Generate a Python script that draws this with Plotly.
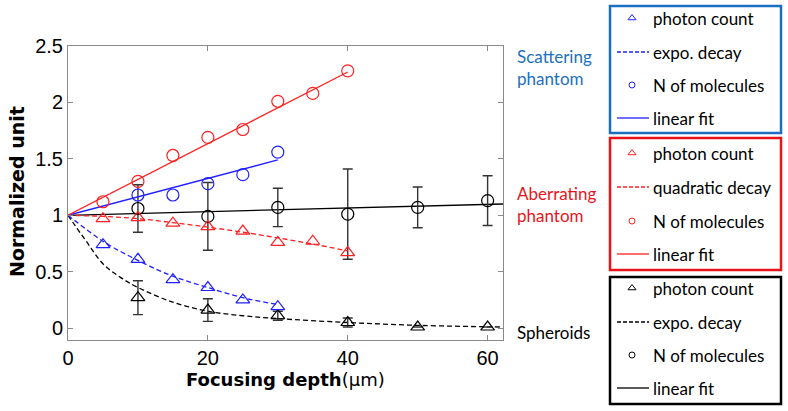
import plotly.graph_objects as go

W, H = 788, 411

# ---- data ----
# Scattering phantom (blue)
sc_pc_x = [5, 10, 15, 20, 25, 30]
sc_pc_y = [0.74, 0.61, 0.43, 0.36, 0.25, 0.19]
sc_fit_dec_x = [0, 5, 10, 15, 20, 25, 30]
sc_fit_dec_y = [1.0, 0.77, 0.60, 0.46, 0.36, 0.27, 0.21]
sc_nm_x = [10, 15, 20, 25, 30]
sc_nm_y = [1.18, 1.18, 1.28, 1.36, 1.56]
sc_lin_x = [0, 30]
sc_lin_y = [1.0, 1.49]

# Aberrating phantom (red)
ab_pc_x = [5, 10, 15, 20, 25, 30, 35, 40]
ab_pc_y = [0.97, 0.98, 0.93, 0.90, 0.86, 0.76, 0.77, 0.67]
ab_fit_dec_x = [0, 5, 10, 15, 20, 25, 30, 35, 40]
ab_fit_dec_y = [1.0, 0.99, 0.97, 0.935, 0.895, 0.85, 0.80, 0.745, 0.685]
ab_nm_x = [5, 10, 15, 20, 25, 30, 35, 40]
ab_nm_y = [1.12, 1.30, 1.53, 1.69, 1.76, 2.01, 2.08, 2.28]
ab_lin_x = [0, 40]
ab_lin_y = [1.0, 2.27]

# Spheroids (black)
sp_pc_x = [10, 20, 30, 40, 50, 60]
sp_pc_y = [0.27, 0.16, 0.11, 0.05, 0.01, 0.01]
sp_pc_err = [0.15, 0.10, 0.04, 0.04, 0.0, 0.0]
sp_fit_dec_x = [0, 1, 2.5, 5, 7.5, 10, 15, 20, 25, 30, 40, 50, 60, 62]
sp_fit_dec_y = [1.0, 0.91, 0.78, 0.57, 0.45, 0.36, 0.23, 0.15, 0.11, 0.085, 0.05, 0.025, 0.012, 0.01]
sp_nm_x = [10, 20, 30, 40, 50, 60]
sp_nm_y = [1.06, 0.99, 1.07, 1.01, 1.07, 1.13]
sp_nm_err = [0.21, 0.30, 0.17, 0.40, 0.18, 0.22]
sp_lin_x = [0, 62.2]
sp_lin_y = [1.0, 1.10]

x_ticks = [0, 20, 40, 60]
y_ticks = [0, 0.5, 1, 1.5, 2, 2.5]

groups = [
    dict(name="Scattering<br>phantom", color="#2020ff", box="#1c6fc0", label_col="#1c6fc0",
         decay="expo. decay", label_y=67, box_y=(6, 133), rows=[18, 52, 85, 118]),
    dict(name="Aberrating<br>phantom", color="#ff2020", box="#e8141c", label_col="#e8141c",
         decay="quadratic decay", label_y=204, box_y=(138, 270), rows=[153, 187, 221, 254]),
    dict(name="Spheroids", color="black", box="black", label_col="black",
         decay="expo. decay", label_y=332, box_y=(277, 404), rows=[288, 322, 355, 388]),
]

fig = go.Figure()

def add_series(color, pc_x, pc_y, dec_x, dec_y, nm_x, nm_y, lin_x, lin_y, pc_err=None, nm_err=None):
    fig.add_trace(go.Scatter(x=dec_x, y=dec_y, mode="lines", line=dict(color=color, width=1.3, dash="5px,3px", shape="spline")))
    fig.add_trace(go.Scatter(x=lin_x, y=lin_y, mode="lines", line=dict(color=color, width=1.3)))
    eb = lambda e: dict(type="data", array=e, visible=True, color="#333333", thickness=1.4, width=5) if e else None
    fig.add_trace(go.Scatter(x=pc_x, y=pc_y, mode="markers", error_y=eb(pc_err),
                             marker=dict(symbol="triangle-up-open", size=12, color=color, line=dict(width=1.2))))
    fig.add_trace(go.Scatter(x=nm_x, y=nm_y, mode="markers", error_y=eb(nm_err),
                             marker=dict(symbol="circle-open", size=12, color=color, line=dict(width=1.2))))

add_series("black", sp_pc_x, sp_pc_y, sp_fit_dec_x, sp_fit_dec_y, sp_nm_x, sp_nm_y, sp_lin_x, sp_lin_y, sp_pc_err, sp_nm_err)
add_series("#2020ff", sc_pc_x, sc_pc_y, sc_fit_dec_x, sc_fit_dec_y, sc_nm_x, sc_nm_y, sc_lin_x, sc_lin_y)
add_series("#ff2020", ab_pc_x, ab_pc_y, ab_fit_dec_x, ab_fit_dec_y, ab_nm_x, ab_nm_y, ab_lin_x, ab_lin_y)

# ---- legend boxes on a pixel-space overlay axis ----
LX0, LX1 = 610, 781
shapes = []
annotations = []
for g in groups:
    y0, y1 = g["box_y"]
    shapes.append(dict(type="rect", xref="x2", yref="y2", x0=LX0, x1=LX1, y0=y0, y1=y1,
                       line=dict(color=g["box"], width=2.5)))
    r = g["rows"]
    fig.add_trace(go.Scatter(x=[632], y=[r[0]], xaxis="x2", yaxis="y2", mode="markers",
                             marker=dict(symbol="triangle-up-open", size=7, color=g["color"], line=dict(width=1))))
    fig.add_trace(go.Scatter(x=[632], y=[r[2]], xaxis="x2", yaxis="y2", mode="markers",
                             marker=dict(symbol="circle-open", size=6, color=g["color"], line=dict(width=1))))
    fig.add_trace(go.Scatter(x=[617, 649], y=[r[1], r[1]], xaxis="x2", yaxis="y2", mode="lines",
                             line=dict(color=g["color"], width=1.3, dash="4px,2px")))
    fig.add_trace(go.Scatter(x=[617, 649], y=[r[3], r[3]], xaxis="x2", yaxis="y2", mode="lines",
                             line=dict(color=g["color"], width=1.3)))
    for yy, txt in zip(r, ["photon count", g["decay"], "N of molecules", "linear fit"]):
        annotations.append(dict(x=651, y=yy, xref="x2", yref="y2", text=txt, showarrow=False,
                                xanchor="left", yanchor="middle", font=dict(family="Lato", size=17, color="black")))
    annotations.append(dict(x=515, y=g["label_y"], xref="x2", yref="y2", text=g["name"], showarrow=False,
                            xanchor="left", yanchor="middle", align="left",
                            font=dict(family="Lato", size=17, color=g["label_col"])))

# axis titles
annotations.append(dict(x=285, y=379, xref="x2", yref="y2", showarrow=False, xanchor="center", yanchor="middle",
                        text="<b>Focusing depth</b>(μm)", font=dict(family="DejaVu Sans", size=18, color="black")))
annotations.append(dict(x=17, y=192, xref="x2", yref="y2", showarrow=False, xanchor="center", yanchor="middle",
                        textangle=-90, text="<b>Normalized unit</b>",
                        font=dict(family="DejaVu Sans", size=19, color="black")))

axis_common = dict(showline=True, linecolor="#8a8a8a", linewidth=1, mirror="ticks", ticks="inside",
                   ticklen=5, tickcolor="#8a8a8a", showgrid=False, zeroline=False, automargin=False,
                   tickfont=dict(family="Liberation Sans", size=20, color="black"))

fig.update_layout(
    width=W, height=H,
    margin=dict(l=0, r=0, t=0, b=0, autoexpand=False),
    plot_bgcolor="rgba(0,0,0,0)", paper_bgcolor="white",
    showlegend=False,
    xaxis=dict(domain=[68 / W, 503 / W], range=[0, 62.2], tickvals=x_ticks, **axis_common),
    yaxis=dict(domain=[1 - 340 / H, 1 - 46 / H], range=[-0.105, 2.5], tickvals=y_ticks,
               ticktext=[f"{v:g}" for v in y_ticks], **axis_common),
    xaxis2=dict(domain=[0, 1], range=[0, W], visible=False, anchor="y2"),
    yaxis2=dict(domain=[0, 1], range=[H, 0], visible=False, anchor="x2"),
    shapes=shapes,
    annotations=annotations,
)

fig.write_html("out.html", config={"displayModeBar": False},
               post_script="document.body.style.margin='0px';")
